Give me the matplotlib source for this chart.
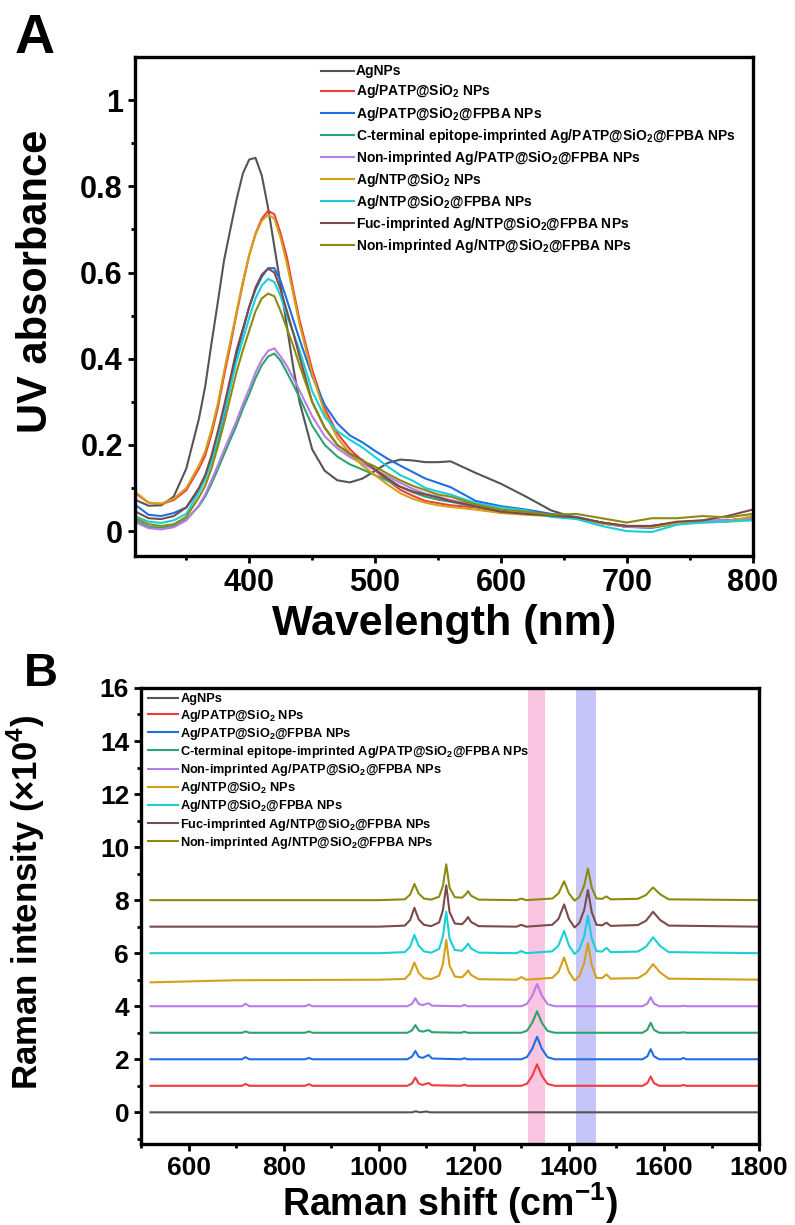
import numpy as np
import matplotlib
matplotlib.use('Agg')
import matplotlib.pyplot as plt

plt.rcParams['font.family'] = ['Liberation Sans', 'DejaVu Sans']
plt.rcParams['mathtext.fontset'] = 'custom'
plt.rcParams['mathtext.rm'] = 'Liberation Sans'
plt.rcParams['mathtext.bf'] = 'Liberation Sans:bold'

# ===================== 数据 =====================
LABELS = [
    'AgNPs',
    'Ag/PATP@SiO$_\\mathregular{2}$ NPs',
    'Ag/PATP@SiO$_\\mathregular{2}$@FPBA NPs',
    'C-terminal epitope-imprinted Ag/PATP@SiO$_\\mathregular{2}$@FPBA NPs',
    'Non-imprinted Ag/PATP@SiO$_\\mathregular{2}$@FPBA NPs',
    'Ag/NTP@SiO$_\\mathregular{2}$ NPs',
    'Ag/NTP@SiO$_\\mathregular{2}$@FPBA NPs',
    'Fuc-imprinted Ag/NTP@SiO$_\\mathregular{2}$@FPBA NPs',
    'Non-imprinted Ag/NTP@SiO$_\\mathregular{2}$@FPBA NPs',
]
COLORS = ['#555555', '#f23c3c', '#1f6fe0', '#2ea36b', '#b77ce8',
          '#d4a017', '#19cfd8', '#7b4a4a', '#8b8b10']

# UV-vis 波长
WL = [310, 320, 330, 340, 350, 360, 365, 370, 375, 380, 385, 390, 395, 400, 405,
      410, 415, 420, 425, 430, 435, 440, 450, 460, 470, 480, 490, 500, 510, 520,
      530, 540, 550, 560, 580, 600, 620, 640, 660, 680, 700, 720, 740, 760, 780, 800]

UV_AGNPS = [0.072, 0.059, 0.060, 0.080, 0.145, 0.26, 0.335, 0.435, 0.53, 0.628, 0.70, 0.77, 0.83, 0.862, 0.866,
            0.825, 0.75, 0.66, 0.57, 0.474, 0.38, 0.30, 0.19, 0.14, 0.118, 0.113, 0.122, 0.14, 0.158, 0.166,
            0.164, 0.16, 0.16, 0.162, 0.135, 0.11, 0.08, 0.048, 0.03, 0.02, 0.012, 0.012, 0.02, 0.022, 0.025, 0.03]
UV_PATP = [0.087, 0.066, 0.063, 0.072, 0.095, 0.145, 0.175, 0.225, 0.285, 0.36, 0.43, 0.505, 0.575, 0.64, 0.69,
           0.725, 0.743, 0.735, 0.69, 0.635, 0.56, 0.49, 0.375, 0.285, 0.227, 0.19, 0.163, 0.141, 0.118, 0.096,
           0.082, 0.07, 0.065, 0.06, 0.055, 0.045, 0.04, 0.036, 0.03, 0.02, 0.01, 0.012, 0.02, 0.022, 0.025, 0.03]
UV_PATP_FPBA = [0.06, 0.038, 0.035, 0.042, 0.055, 0.095, 0.125, 0.165, 0.207, 0.27, 0.335, 0.41, 0.465, 0.52, 0.56,
                0.59, 0.61, 0.61, 0.58, 0.536, 0.49, 0.445, 0.36, 0.293, 0.25, 0.222, 0.206, 0.186, 0.168, 0.152,
                0.137, 0.122, 0.112, 0.102, 0.07, 0.058, 0.05, 0.04, 0.033, 0.02, 0.01, 0.008, 0.018, 0.022, 0.025, 0.03]
UV_PATP_MIP = [0.025, 0.01, 0.008, 0.012, 0.027, 0.058, 0.08, 0.11, 0.143, 0.178, 0.212, 0.246, 0.284, 0.318, 0.355,
               0.385, 0.405, 0.412, 0.395, 0.368, 0.34, 0.31, 0.245, 0.2, 0.173, 0.155, 0.143, 0.13, 0.117, 0.103,
               0.09, 0.08, 0.073, 0.068, 0.057, 0.047, 0.042, 0.035, 0.03, 0.018, 0.01, 0.008, 0.018, 0.022, 0.025, 0.028]
UV_PATP_NIP = [0.02, 0.007, 0.004, 0.009, 0.025, 0.06, 0.085, 0.118, 0.152, 0.188, 0.222, 0.256, 0.295, 0.33, 0.368,
               0.398, 0.418, 0.424, 0.405, 0.383, 0.355, 0.326, 0.267, 0.22, 0.192, 0.172, 0.156, 0.142, 0.127, 0.112,
               0.098, 0.087, 0.08, 0.072, 0.06, 0.05, 0.043, 0.036, 0.03, 0.018, 0.01, 0.01, 0.02, 0.025, 0.025, 0.03]
UV_NTP = [0.09, 0.066, 0.064, 0.075, 0.1, 0.152, 0.185, 0.235, 0.295, 0.37, 0.44, 0.51, 0.58, 0.64, 0.688,
          0.72, 0.734, 0.725, 0.68, 0.62, 0.55, 0.48, 0.365, 0.275, 0.217, 0.18, 0.152, 0.13, 0.108, 0.088,
          0.075, 0.066, 0.06, 0.056, 0.05, 0.042, 0.038, 0.035, 0.03, 0.018, 0.012, 0.01, 0.018, 0.02, 0.022, 0.035]
UV_NTP_FPBA = [0.034, 0.022, 0.019, 0.025, 0.04, 0.09, 0.12, 0.16, 0.215, 0.275, 0.335, 0.395, 0.445, 0.495, 0.54,
               0.57, 0.585, 0.578, 0.545, 0.5, 0.46, 0.42, 0.325, 0.265, 0.232, 0.212, 0.194, 0.172, 0.15, 0.13,
               0.117, 0.1, 0.092, 0.085, 0.065, 0.055, 0.048, 0.033, 0.028, 0.012, 0.0, -0.002, 0.015, 0.02, 0.022, 0.025]
UV_NTP_MIP = [0.045, 0.03, 0.028, 0.035, 0.055, 0.1, 0.13, 0.175, 0.23, 0.29, 0.355, 0.42, 0.47, 0.52, 0.565,
              0.595, 0.609, 0.6, 0.56, 0.51, 0.46, 0.405, 0.3, 0.24, 0.2, 0.18, 0.165, 0.143, 0.122, 0.103,
              0.092, 0.085, 0.078, 0.07, 0.058, 0.045, 0.04, 0.036, 0.032, 0.02, 0.012, 0.012, 0.022, 0.025, 0.035, 0.05]
UV_NTP_NIP = [0.03, 0.016, 0.012, 0.016, 0.033, 0.078, 0.105, 0.145, 0.195, 0.25, 0.31, 0.37, 0.42, 0.465, 0.51,
              0.54, 0.551, 0.545, 0.51, 0.47, 0.43, 0.385, 0.3, 0.24, 0.2, 0.178, 0.163, 0.15, 0.133, 0.118,
              0.105, 0.095, 0.085, 0.08, 0.062, 0.05, 0.045, 0.038, 0.04, 0.03, 0.02, 0.03, 0.03, 0.035, 0.032, 0.04]

UV_SERIES = [UV_AGNPS, UV_PATP, UV_PATP_FPBA, UV_PATP_MIP, UV_PATP_NIP,
             UV_NTP, UV_NTP_FPBA, UV_NTP_MIP, UV_NTP_NIP]

# Raman (×10^4)，各曲线相对基线强度
RAMAN_OFFSETS = [0, 1, 2, 3, 4, 5, 6, 7, 8]

AG_X = [520, 1070, 1078, 1086, 1100, 1108, 1800]
AG_Y = [0, 0, 0.04, 0, 0.03, 0, 0]

PATP_X = [520, 712, 720, 728, 845, 853, 861, 1060, 1070, 1077, 1084, 1092, 1100, 1105, 1112,
          1173, 1180, 1187, 1300, 1312, 1323, 1333, 1343, 1355, 1370, 1555, 1565, 1572, 1579, 1590,
          1635, 1641, 1647, 1800]
RM_PATP = [0, 0, 0.07, 0, 0, 0.06, 0, 0, 0.09, 0.31, 0.09, 0.03, 0.08, 0.1, 0.02,
           0, 0.04, 0, 0, 0.08, 0.38, 0.81, 0.38, 0.07, 0, 0, 0.1, 0.35, 0.1, 0,
           0, 0.03, 0, 0]
RM_PATP_FPBA = [0, 0, 0.08, 0, 0, 0.05, 0, 0, 0.1, 0.31, 0.1, 0.05, 0.12, 0.16, 0.03,
                0, 0.04, 0, 0, 0.09, 0.4, 0.85, 0.4, 0.08, 0, 0, 0.11, 0.38, 0.11, 0,
                0, 0.05, 0, 0]
RM_PATP_MIP = [0, 0, 0.05, 0, 0, 0.05, 0, 0, 0.09, 0.29, 0.09, 0.04, 0.08, 0.1, 0.02,
               0, 0.04, 0, 0, 0.08, 0.38, 0.81, 0.38, 0.07, 0, 0, 0.11, 0.38, 0.11, 0,
               0, 0.02, 0, 0]
RM_PATP_NIP = [0, 0, 0.09, 0, 0, 0.06, 0, 0, 0.09, 0.3, 0.09, 0.04, 0.09, 0.11, 0.02,
               0, 0.05, 0, 0, 0.09, 0.4, 0.84, 0.4, 0.08, 0, 0, 0.1, 0.34, 0.1, 0,
               0, 0.02, 0, 0]

NTP_X = [520, 700, 1000, 1055, 1066, 1075, 1084, 1095, 1110, 1127, 1135, 1142, 1149, 1160, 1175,
         1182, 1188, 1194, 1210, 1290, 1300, 1310, 1365, 1378, 1390, 1400, 1412, 1422, 1432, 1440,
         1448, 1458, 1470, 1479, 1488, 1545, 1562, 1577, 1592, 1610, 1800]
RM_NTP = [-0.1, -0.02, 0, 0.03, 0.23, 0.65, 0.26, 0.06, 0.02, 0.15, 0.6, 1.5, 0.53, 0.12, 0.09,
          0.21, 0.35, 0.18, 0.02, 0, 0.1, 0, 0.07, 0.29, 0.84, 0.29, -0.03, 0.14, 0.62, 1.38,
          0.55, 0.07, 0.06, 0.2, 0.04, 0.06, 0.24, 0.59, 0.27, 0.04, 0]
RM_NTP_FPBA = [0, 0, 0, 0.04, 0.24, 0.69, 0.28, 0.07, 0.02, 0.16, 0.62, 1.56, 0.55, 0.12, 0.09,
               0.22, 0.36, 0.18, 0.02, 0, 0.08, 0, 0.07, 0.29, 0.84, 0.29, -0.03, 0.14, 0.63, 1.41,
               0.56, 0.08, 0.06, 0.2, 0.04, 0.06, 0.24, 0.6, 0.27, 0.04, 0]
RM_NTP_MIP = [0, 0, 0, 0.04, 0.25, 0.71, 0.28, 0.07, 0.02, 0.16, 0.62, 1.56, 0.55, 0.12, 0.09,
              0.22, 0.36, 0.18, 0.02, 0, 0.07, 0, 0.07, 0.29, 0.84, 0.29, -0.03, 0.14, 0.62, 1.38,
              0.55, 0.07, 0.05, 0.15, 0.03, 0.06, 0.22, 0.56, 0.25, 0.04, 0]
RM_NTP_NIP = [0, 0, 0, 0.03, 0.21, 0.61, 0.25, 0.06, 0.02, 0.13, 0.54, 1.35, 0.47, 0.11, 0.09,
              0.2, 0.34, 0.17, 0.02, 0, 0.06, 0, 0.06, 0.25, 0.71, 0.25, -0.02, 0.12, 0.54, 1.19,
              0.48, 0.06, 0.05, 0.14, 0.03, 0.05, 0.19, 0.48, 0.22, 0.03, 0]

RAMAN_SERIES = [(AG_X, AG_Y), (PATP_X, RM_PATP), (PATP_X, RM_PATP_FPBA), (PATP_X, RM_PATP_MIP),
                (PATP_X, RM_PATP_NIP), (NTP_X, RM_NTP), (NTP_X, RM_NTP_FPBA), (NTP_X, RM_NTP_MIP),
                (NTP_X, RM_NTP_NIP)]

PINK_BAND = (1315, 1350)
BLUE_BAND = (1415, 1458)


def style_axes(ax, tick_size):
    for s in ax.spines.values():
        s.set_linewidth(2.4)
    ax.tick_params(which='major', direction='out', length=5, width=2, labelsize=tick_size,
                   top=False, right=False)
    ax.tick_params(which='minor', direction='out', length=3, width=2, top=False, right=False)
    for lab in ax.get_xticklabels() + ax.get_yticklabels():
        lab.set_fontweight('bold')


fig = plt.figure(figsize=(7.95, 12.25), dpi=100)

# ===================== A: UV-vis =====================
axA = fig.add_axes([0.1694, 0.5460, 0.7773, 0.4075])
for y, c, lab in zip(UV_SERIES, COLORS, LABELS):
    axA.plot(WL, y, color=c, lw=1.5, label=lab)
axA.set_xlim(309, 800)
axA.set_ylim(-0.058, 1.1)
axA.set_xticks([400, 500, 600, 700, 800])
axA.set_xticks([350, 450, 550, 650, 750], minor=True)
axA.set_yticks([0, 0.2, 0.4, 0.6, 0.8, 1.0])
axA.set_yticklabels(['0', '0.2', '0.4', '0.6', '0.8', '1'])
axA.set_yticks([0.1, 0.3, 0.5, 0.7, 0.9], minor=True)
style_axes(axA, 22)
axA.set_xlabel('Wavelength (nm)', fontsize=31, fontweight='bold', labelpad=4)
axA.set_ylabel('UV absorbance', fontsize=30, fontweight='bold')
axA.yaxis.set_label_coords(-0.128, 0.55)
axA.legend(loc='upper left', bbox_to_anchor=(0.301, 0.985), frameon=False,
           prop={'size': 10, 'weight': 'bold'}, handlelength=2.4, handletextpad=0.15,
           labelspacing=0.29, borderpad=0, borderaxespad=0)
fig.text(0.018, 0.957, 'A', fontsize=40, fontweight='bold')

# ===================== B: Raman =====================
axB = fig.add_axes([0.1774, 0.0660, 0.7774, 0.3724])
axB.axvspan(*PINK_BAND, color='#f9c5e0', lw=0, zorder=0)
axB.axvspan(*BLUE_BAND, color='#c5c5f8', lw=0, zorder=0)
for (x, y), off, c, lab in zip(RAMAN_SERIES, RAMAN_OFFSETS, COLORS, LABELS):
    axB.plot(x, np.array(y) + off, color=c, lw=1.5, label=lab)
axB.set_xlim(500, 1800)
axB.set_ylim(-1.2, 16)
axB.set_xticks([600, 800, 1000, 1200, 1400, 1600, 1800])
axB.set_xticks([500, 700, 900, 1100, 1300, 1500, 1700], minor=True)
axB.set_yticks(range(0, 17, 2))
axB.set_yticks(range(-1, 16, 2), minor=True)
style_axes(axB, 19)
axB.set_xlabel('Raman shift (cm$^\\mathregular{-1}$)', fontsize=27, fontweight='bold', labelpad=0)
axB.set_ylabel('Raman intensity (×10$^\\mathregular{4}$)', fontsize=25, fontweight='bold')
axB.yaxis.set_label_coords(-0.152, 0.53)
axB.legend(loc='upper left', bbox_to_anchor=(0.011, 0.988), frameon=False,
           prop={'size': 9.2, 'weight': 'bold'}, handlelength=2.4, handletextpad=0.15,
           labelspacing=0.17, borderpad=0, borderaxespad=0)
fig.text(0.03, 0.44, 'B', fontsize=34, fontweight='bold')

fig.savefig('out.png', dpi=100)
